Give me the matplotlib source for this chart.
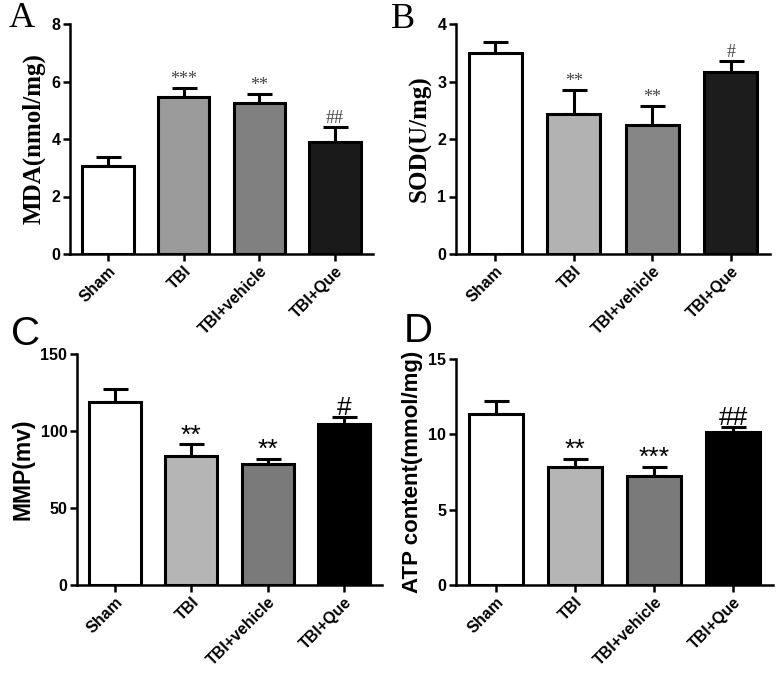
import matplotlib
matplotlib.use("Agg")
import matplotlib.pyplot as plt
import matplotlib.transforms as mtrans
from matplotlib import font_manager
import numpy as np

groups = ["Sham", "TBI", "TBI+vehicle", "TBI+Que"]

mda_mean = [3.07, 5.46, 5.26, 3.91]
mda_err = [0.29, 0.32, 0.32, 0.51]
mda_marks = ["", "***", "**", "##"]

sod_mean = [3.49, 2.43, 2.24, 3.17]
sod_err = [0.20, 0.43, 0.33, 0.19]
sod_marks = ["", "**", "**", "#"]

mmp_mean = [118.8, 84.0, 78.6, 104.5]
mmp_err = [8.7, 7.3, 3.4, 4.5]
mmp_marks = ["", "**", "**", "#"]

atp_mean = [11.36, 7.83, 7.23, 10.17]
atp_err = [0.84, 0.51, 0.58, 0.33]
atp_marks = ["", "**", "***", "##"]

W, H = 780, 682
fig = plt.figure(figsize=(W / 100, H / 100), dpi=100)


def ax_at(l, r, t, b):
    return fig.add_axes([l / W, 1 - b / H, (r - l) / W, (b - t) / H])


serif = ["Liberation Serif", "DejaVu Serif"]
sans = ["Liberation Sans", "DejaVu Sans"]
installed = {f.name for f in font_manager.fontManager.ttflist}
narrow = ["Liberation Sans Narrow"] if "Liberation Sans Narrow" in installed else ["Liberation Sans"]
narrow = narrow + ["DejaVu Sans"]


def panel(ax, mean, err, marks, colors, ymax, ystep, ylabel, ylab_font, ylab_size,
          mark_font, mark_size, mark_color, mark_pad):
    x = np.arange(len(groups))
    ax.bar(x, mean, width=0.68, color=colors, edgecolor="black", linewidth=2.2, zorder=2)
    ax.errorbar(x, mean, yerr=[np.zeros(len(err)), err], fmt="none", ecolor="black",
                elinewidth=2.2, capsize=9, capthick=2.2, zorder=1)
    for xi, m, e, s in zip(x, mean, err, marks):
        if s:
            ax.text(xi, m + e + mark_pad, s, ha="center", va="bottom", family=mark_font,
                    fontsize=mark_size, color=mark_color)
    ax.set_xlim(-0.5, 3.5)
    ax.set_ylim(0, ymax)
    ax.set_yticks(np.arange(0, ymax + 0.001, ystep))
    ax.set_xticks(x)
    ax.set_xticklabels(groups, rotation=45, ha="right", rotation_mode="anchor",
                       family=sans, fontweight="bold", fontsize=11.5)
    off = mtrans.ScaledTranslation(7 / 100, -3 / 100, fig.dpi_scale_trans)
    for lab in ax.get_xticklabels():
        lab.set_transform(lab.get_transform() + off)
    for lab in ax.get_yticklabels():
        lab.set_family(sans)
        lab.set_fontweight("bold")
        lab.set_fontsize(11.5)
    ax.spines["top"].set_visible(False)
    ax.spines["right"].set_visible(False)
    ax.spines["left"].set_linewidth(1.8)
    ax.spines["bottom"].set_linewidth(1.8)
    ax.tick_params(width=1.8, length=5, pad=2)
    ax.set_ylabel(ylabel, family=ylab_font, fontweight="bold", fontsize=ylab_size, labelpad=4)


axA = ax_at(70, 373, 24, 254)
panel(axA, mda_mean, mda_err, mda_marks, ["white", "#9b9b9b", "#808080", "#1a1a1a"],
      8, 2, "MDA(nmol/mg)", serif, 18, serif, 13, "#444444", 0.0)
axB = ax_at(456, 770, 24, 254)
panel(axB, sod_mean, sod_err, sod_marks, ["white", "#b2b2b2", "#868686", "#1c1c1c"],
      4, 1, "SOD(U/mg)", serif, 18, serif, 13, "#444444", 0.0)
axC = ax_at(77, 382, 354, 585)
panel(axC, mmp_mean, mmp_err, mmp_marks, ["white", "#b5b5b5", "#7a7a7a", "black"],
      150, 50, "MMP(mv)", sans, 16.5, sans, 19, "black", -2.0)
axD = ax_at(456, 773, 359, 585)
panel(axD, atp_mean, atp_err, atp_marks, ["white", "#b5b5b5", "#7a7a7a", "black"],
      15, 5, "ATP content(mmol/mg)", sans, 16, sans, 19, "black", -0.2)

fig.text(9 / W, 1 - 27 / H, "A", family=serif, fontsize=26, va="baseline", ha="left")
fig.text(391 / W, 1 - 28 / H, "B", family=serif, fontsize=26, va="baseline", ha="left")
fig.text(11 / W, 1 - 345 / H, "C", family=narrow, fontsize=29, va="baseline", ha="left")
fig.text(404 / W, 1 - 342 / H, "D", family=narrow, fontsize=29, va="baseline", ha="left")

fig.savefig("out.png", dpi=100, facecolor="white")
